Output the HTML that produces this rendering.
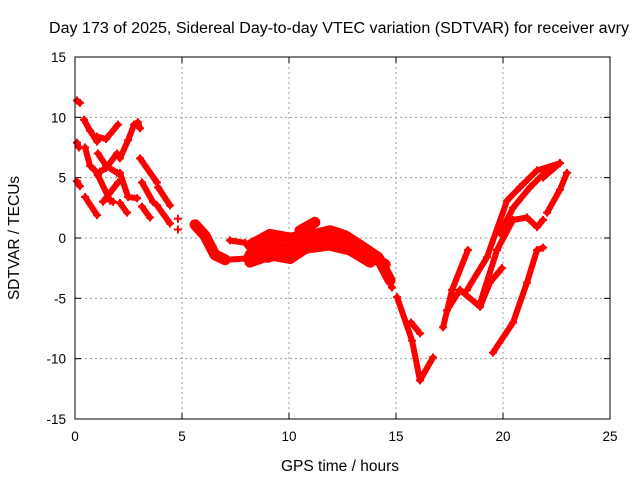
<!DOCTYPE html>
<html><head><meta charset="utf-8"><style>
body{margin:0;background:#fff}
svg{display:block;font-family:"Liberation Sans",sans-serif}
</style></head><body>
<svg id="chart" width="640" height="480" viewBox="0 0 640 480" xmlns="http://www.w3.org/2000/svg">
<rect width="640" height="480" fill="#fff"/>
<text x="339" y="33" font-size="15.5" text-anchor="middle" fill="#000" textLength="580" lengthAdjust="spacingAndGlyphs">Day 173 of 2025, Sidereal Day-to-day VTEC variation (SDTVAR) for receiver avry</text>
<g id="grid"></g>
<g id="ticks"></g>
<g id="series"></g>
<rect x="75" y="57" width="535" height="362" fill="none" stroke="#000" stroke-width="1"/>
<text x="340" y="471" font-size="15.5" text-anchor="middle">GPS time / hours</text>
<text transform="translate(19,238) rotate(-90)" font-size="15.5" text-anchor="middle">SDTVAR / TECUs</text>
</svg>
<script>
const xTicks=[0,5,10,15,20,25];
const yTicks=[-15,-10,-5,0,5,10,15];
// tracks: arrays of [hour, SDTVAR] points
const trackHours=[
[0.09,0.23],[0.09,0.19],[0.09,0.23],
[0.42,0.70,1.03],[1.03,1.45,2.01],[2.10,2.48,2.76,2.94,3.04],
[0.47,0.70,0.93,1.07],[1.07,1.45,1.96],[1.96,1.45,1.17],
[2.10,2.48,2.90],[1.07,1.64,1.78],[1.31,2.01],[0.47,1.03],[2.10,2.43],
[3.04,3.83],[3.13,3.64],[3.13,3.50],[3.88,4.44],[3.83,4.44],
[4.81],[4.81],
[5.61,6.07,6.54,7.01],[7.24,7.94],[7.15,7.94],
[8.18,9.11,10.05,10.98,11.92,12.62,13.32,14.16,14.72],
[8.18,9.11,10.05,10.98,11.92,12.85,13.79,14.49],
[8.18,9.11,10.05,10.98],[10.51,11.21],[11.92,12.85,13.79],
[14.25,14.81],[15.05,15.75,16.12,16.73],[15.70,16.12],
[17.20,17.62,18.36],[17.38,17.99,18.93,19.39,19.95],
[18.32,19.25,20.19,20.79,21.59,22.66],
[18.93,19.72,20.47,21.12,21.59,21.87],
[19.53,20.47,21.12,21.59,21.87],
[22.06,22.66,22.99],[19.86,20.47,21.26,22.06],[21.87,22.66],
[8.4,9.3,10.2,11.0,11.6,12.4,13.2,14.0],
[9.0,9.8,10.6,11.4,12.2]
];
const trackValues=[
[11.4,11.2],[7.9,7.5],[4.7,4.3],
[9.8,8.9,8.0],[8.4,8.2,9.4],[6.6,8.1,9.4,9.6,9.1],
[7.5,6.0,5.6,5.2],[7.0,6.0,5.4],[7.0,5.8,5.5],
[5.4,3.4,3.3],[5.2,3.1,3.0],[3.0,4.6],[3.4,1.9],[2.9,2.1],
[6.6,4.6],[4.6,3.0],[2.6,1.7],[4.2,2.7],[2.7,1.2],
[1.6],[0.7],
[1.1,0.2,-1.4,-1.8],[-0.2,-0.4],[-1.8,-1.7],
[-0.6,0.3,0.0,0.2,0.6,0.2,-0.6,-1.6,-3.5],
[-1.4,-1.0,-0.8,-0.4,0.0,-0.3,-1.4,-2.2],
[-2.0,-1.4,-1.7,-0.6],[0.6,1.3],[-0.6,-1.0,-2.0],
[-1.6,-4.1],[-4.9,-8.5,-11.8,-9.9],[-7.0,-7.9],
[-7.4,-4.3,-1.0],[-6.0,-4.3,-5.7,-3.7,-2.5],
[-4.3,-1.6,3.1,4.2,5.6,6.2],
[-5.4,-1.0,1.5,1.7,0.9,1.5],
[-9.5,-7.0,-3.7,-1.0,-0.8],
[2.1,4.0,5.4],[0.4,2.5,4.2,5.6],[5.0,6.2],
[-1.0,-0.5,-1.2,-0.3,0.3,-0.4,-0.9,-1.8],
[-1.6,-1.2,-0.9,-0.7,-0.5]
];
const wideTracks=[21,24,25,26,27,28,40,41];
const NS='http://www.w3.org/2000/svg';
const X0=75,X1=610,Y0=419,Y1=57;
function sx(h){return X0+(h-0)/(25-0)*(X1-X0);}
function sy(v){return Y0-(v+15)/30*(Y0-Y1);}
const grid=document.getElementById('grid'),ticks=document.getElementById('ticks'),ser=document.getElementById('series');
function mk(tag,attrs,parent){const e=document.createElementNS(NS,tag);for(const k in attrs)e.setAttribute(k,attrs[k]);parent.appendChild(e);return e;}
xTicks.forEach(t=>{
  const x=sx(t);
  if(t>0&&t<25){const g=mk('line',{x1:x,x2:x,y1:Y1,y2:Y0,stroke:'#999','stroke-dasharray':'2,3'},grid);
  
  }
  mk('line',{x1:x,x2:x,y1:Y0,y2:Y0-6,stroke:'#000'},ticks);
  mk('line',{x1:x,x2:x,y1:Y1,y2:Y1+6,stroke:'#000'},ticks);
  const l=mk('text',{x:x,y:Y0+22,'font-size':13.5,'text-anchor':'middle'},ticks);l.textContent=t;
  
  
});
yTicks.forEach(t=>{
  const y=sy(t);
  if(t>-15&&t<15){const g=mk('line',{x1:X0,x2:X1,y1:y,y2:y,stroke:'#999','stroke-dasharray':'2,3'},grid);
  
  }
  mk('line',{x1:X0,x2:X0+6,y1:y,y2:y,stroke:'#000'},ticks);
  mk('line',{x1:X1,x2:X1-6,y1:y,y2:y,stroke:'#000'},ticks);
  const l=mk('text',{x:X0-9,y:y+5,'font-size':13.5,'text-anchor':'end'},ticks);l.textContent=t;
  
  
});
trackHours.forEach((hs,i)=>{
  const vs=trackValues[i];
  const w=wideTracks.includes(i)?11:6;
  if(hs.length>1){
    const pts=hs.map((h,j)=>sx(h)+','+sy(vs[j])).join(' ');
    const p=mk('polyline',{points:pts,fill:'none',stroke:'#f00','stroke-width':w,'stroke-linejoin':'round','stroke-linecap':'round'},ser);
    
    
  }
  hs.forEach((h,j)=>{
    const x=sx(h),y=sy(vs[j]);
    const m=mk('path',{d:`M${x-4},${y}H${x+4}M${x},${y-4}V${y+4}`,stroke:'#f00','stroke-width':2},ser);
    
    
  });
});
</script>
</body></html>
